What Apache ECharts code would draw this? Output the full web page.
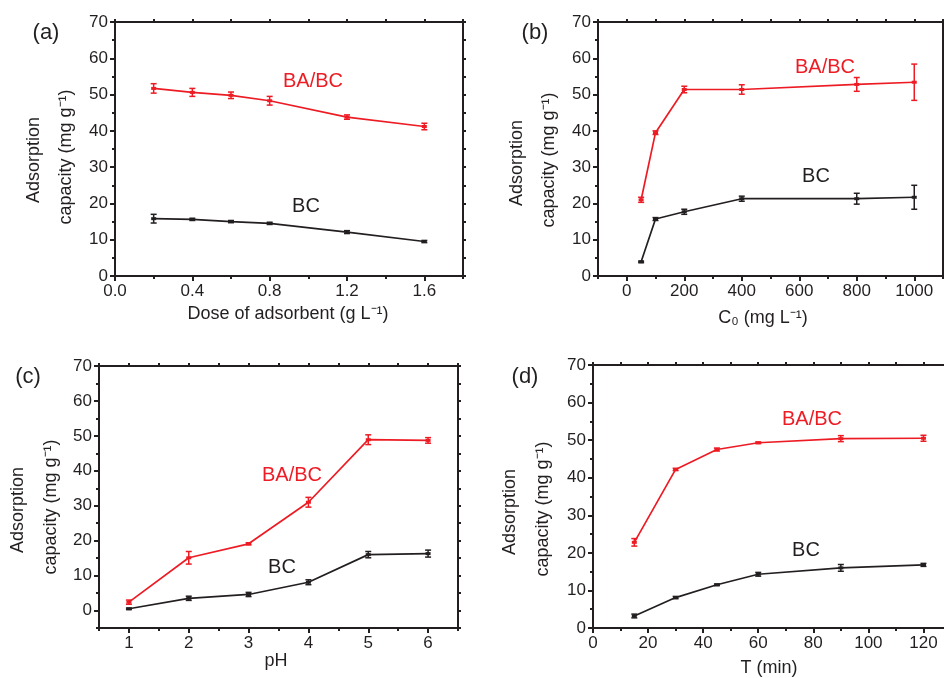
<!DOCTYPE html>
<html><head><meta charset="utf-8">
<script src="https://cdn.jsdelivr.net/npm/echarts@6/dist/echarts.min.js"></script>
<style>html,body{margin:0;padding:0;background:#fff}#c{width:944px;height:678px}</style>
</head><body><div id="c"></div><script>
// ---------- data ----------
// (a) dose of adsorbent
const xA = [0.2, 0.4, 0.6, 0.8, 1.2, 1.6];
const baA = [51.7, 50.6, 49.8, 48.3, 43.8, 41.2];
const baAErr = [1.3, 1.1, 0.9, 1.2, 0.6, 0.9];
const bcA = [15.8, 15.6, 15.0, 14.5, 12.1, 9.5];
const bcAErr = [1.2, 0.3, 0.3, 0.3, 0.4, 0.3];
// (b) initial concentration
const xB = [50, 100, 200, 400, 800, 1000];
const baB = [21.0, 39.5, 51.4, 51.4, 52.8, 53.4];
const baBErr = [0.7, 0.5, 0.9, 1.3, 1.9, 5.0];
const bcB = [3.9, 15.7, 17.7, 21.3, 21.3, 21.7];
const bcBErr = [0.2, 0.4, 0.7, 0.7, 1.5, 3.3];
// (c) pH
const xC = [1, 2, 3, 4, 5, 6];
const baC = [2.4, 15.1, 19.1, 31.0, 48.9, 48.7];
const baCErr = [0.6, 1.8, 0.3, 1.4, 1.4, 0.8];
const bcC = [0.5, 3.5, 4.6, 8.1, 16.0, 16.3];
const bcCErr = [0.2, 0.6, 0.6, 0.7, 0.9, 1.0];
// (d) time
const xD = [15, 30, 45, 60, 90, 120];
const baD = [22.8, 42.2, 47.5, 49.3, 50.4, 50.5];
const baDErr = [1.0, 0.3, 0.4, 0.2, 0.8, 0.8];
const bcD = [3.2, 8.1, 11.5, 14.3, 16.0, 16.8];
const bcDErr = [0.5, 0.3, 0.2, 0.5, 0.9, 0.4];

// tick values
const yMajor = [0, 10, 20, 30, 40, 50, 60, 70];
const yMinor = [5, 15, 25, 35, 45, 55, 65];
const yMinorC = [-5, 5, 15, 25, 35, 45, 55, 65];
const xMajorA = [0, 0.4, 0.8, 1.2, 1.6];
const xMinorA = [0.2, 0.6, 1.0, 1.4, 1.8];
const xMajorB = [0, 200, 400, 600, 800, 1000];
const xMinorB = [-100, 100, 300, 500, 700, 900, 1100];
const xMajorC = [1, 2, 3, 4, 5, 6];
const xMinorC = [0.5, 1.5, 2.5, 3.5, 4.5, 5.5, 6.5];
const xMajorD = [0, 20, 40, 60, 80, 100, 120];
const xMinorD = [10, 30, 50, 70, 90, 110, 130];

const seriesNames = ['BA/BC', 'BC'];
const panelLetters = ['(a)', '(b)', '(c)', '(d)'];
const xTitles = ['Dose of adsorbent (g L⁻¹)', 'C₀ (mg L⁻¹)', 'pH', 'T (min)'];
const yTitle1 = 'Adsorption';
const yTitle2 = 'capacity (mg g⁻¹)';

// ---------- styling / layout ----------
const FONT = "'Liberation Sans', Arial, sans-serif";
const INK = '#231f20', RED = '#ed1c24';

const panels = [
  { grid: {left: 115, top: 22, width: 348, height: 254}, xMin: 0, xMax: 1.8, xMajor: xMajorA, xMinor: xMinorA,
    xFmt: v => Number(v).toFixed(1), yMin: 0, yMax: 70, yMinor: yMinor,
    x: xA, ba: baA, baErr: baAErr, bc: bcA, bcErr: bcAErr,
    letter: [46, 33], baLbl: [313, 81], bcLbl: [306, 206], xT: [288, 314], yT1: [34, 160], yT2: [66, 157] },
  { grid: {left: 598, top: 22, width: 345, height: 254}, xMin: -100, xMax: 1100, xMajor: xMajorB, xMinor: xMinorB,
    xFmt: v => String(v), yMin: 0, yMax: 70, yMinor: yMinor,
    x: xB, ba: baB, baErr: baBErr, bc: bcB, bcErr: bcBErr,
    letter: [535, 33], baLbl: [825, 67], bcLbl: [816, 176], xT: [763, 318], yT1: [517, 163], yT2: [549, 160] },
  { grid: {left: 99, top: 366, width: 359, height: 262}, xMin: 0.5, xMax: 6.5, xMajor: xMajorC, xMinor: xMinorC,
    xFmt: v => String(v), yMin: -5, yMax: 70, yMinor: yMinorC,
    x: xC, ba: baC, baErr: baCErr, bc: bcC, bcErr: bcCErr,
    letter: [28, 377], baLbl: [292, 475], bcLbl: [282, 567], xT: [276, 661], yT1: [18, 510], yT2: [51, 507] },
  { grid: {left: 593, top: 365, width: 358, height: 263}, xMin: 0, xMax: 130, xMajor: xMajorD, xMinor: xMinorD,
    xFmt: v => String(v), yMin: 0, yMax: 70, yMinor: yMinor,
    x: xD, ba: baD, baErr: baDErr, bc: bcD, bcErr: bcDErr,
    letter: [525, 377], baLbl: [812, 419], bcLbl: [806, 550], xT: [769, 668], yT1: [510, 512], yT2: [543, 509] }
];

const grids = [], xAxes = [], yAxes = [], series = [], graphics = [];
const lineStyleAxis = {color: INK, width: 2};

function errBar(color, gi) {
  return function (params, api) {
    const x = api.value(0), y = api.value(1), e = api.value(2);
    const t = api.coord([x, y + e]), b = api.coord([x, y - e]);
    const w = 3;
    const st = {stroke: color, lineWidth: 1.5};
    return {type: 'group', children: [
      {type: 'line', shape: {x1: t[0], y1: t[1], x2: b[0], y2: b[1]}, style: st},
      {type: 'line', shape: {x1: t[0] - w, y1: t[1], x2: t[0] + w, y2: t[1]}, style: st},
      {type: 'line', shape: {x1: b[0] - w, y1: b[1], x2: b[0] + w, y2: b[1]}, style: st}
    ]};
  };
}

panels.forEach((p, i) => {
  grids.push(Object.assign({outerBoundsMode: 'none', containLabel: false}, p.grid));
  const xb = {gridIndex: i, type: 'value', min: p.xMin, max: p.xMax, splitLine: {show: false}};
  const yb = {gridIndex: i, type: 'value', min: p.yMin, max: p.yMax, splitLine: {show: false}};
  // main bottom
  xAxes.push(Object.assign({}, xb, {position: 'bottom',
    axisLine: {show: true, onZero: false, lineStyle: lineStyleAxis},
    axisTick: {show: true, customValues: p.xMajor, length: 5, lineStyle: {color: INK, width: 2}},
    axisLabel: {show: true, customValues: p.xMajor, formatter: p.xFmt, color: INK, fontSize: 17, fontFamily: FONT, margin: 7}}));
  // minor bottom
  xAxes.push(Object.assign({}, xb, {position: 'bottom',
    axisLine: {show: false, onZero: false},
    axisTick: {show: true, customValues: p.xMinor, length: 3, lineStyle: {color: INK, width: 2}},
    axisLabel: {show: false}}));
  // top mirror
  xAxes.push(Object.assign({}, xb, {position: 'top',
    axisLine: {show: true, onZero: false, lineStyle: lineStyleAxis},
    axisTick: {show: true, customValues: p.xMajor.concat(p.xMinor), length: 3, lineStyle: {color: INK, width: 2}},
    axisLabel: {show: false}}));
  // main left
  yAxes.push(Object.assign({}, yb, {position: 'left',
    axisLine: {show: true, onZero: false, lineStyle: lineStyleAxis},
    axisTick: {show: true, customValues: yMajor, length: 5, lineStyle: {color: INK, width: 2}},
    axisLabel: {show: true, customValues: yMajor, color: INK, fontSize: 17, fontFamily: FONT, margin: 7}}));
  yAxes.push(Object.assign({}, yb, {position: 'left',
    axisLine: {show: false, onZero: false},
    axisTick: {show: true, customValues: p.yMinor, length: 3, lineStyle: {color: INK, width: 2}},
    axisLabel: {show: false}}));
  yAxes.push(Object.assign({}, yb, {position: 'right',
    axisLine: {show: true, onZero: false, lineStyle: lineStyleAxis},
    axisTick: {show: true, customValues: yMajor.concat(p.yMinor), length: 3, lineStyle: {color: INK, width: 2}},
    axisLabel: {show: false}}));

  const xi = 3 * i, yi = 3 * i;
  [[p.ba, p.baErr, RED, seriesNames[0]], [p.bc, p.bcErr, INK, seriesNames[1]]].forEach(([vals, errs, col, nm]) => {
    series.push({type: 'line', name: nm, xAxisIndex: xi, yAxisIndex: yi,
      data: p.x.map((v, k) => [v, vals[k]]),
      symbol: 'rect', symbolSize: [5, 3], itemStyle: {color: col},
      lineStyle: {color: col, width: 1.7}, animation: false, z: 3});
    series.push({type: 'custom', name: nm + ' err', xAxisIndex: xi, yAxisIndex: yi,
      data: p.x.map((v, k) => [v, vals[k], errs[k]]),
      encode: {x: 0, y: 1}, renderItem: errBar(col), animation: false, z: 4});
  });

  const txt = (pos, s, size, color, rot) => graphics.push({type: 'text', x: pos[0], y: pos[1], rotation: rot || 0,
    style: {text: s, fill: color, font: size + 'px ' + FONT, textAlign: 'center', textVerticalAlign: 'middle'}});
  txt(p.letter, panelLetters[i], 22, INK);
  txt(p.baLbl, seriesNames[0], 20, RED);
  txt(p.bcLbl, seriesNames[1], 20, INK);
  txt(p.xT, xTitles[i], 18, INK);
  txt(p.yT1, yTitle1, 18, INK, Math.PI / 2);
  txt(p.yT2, yTitle2, 18, INK, Math.PI / 2);
});

const chart = echarts.init(document.getElementById('c'), null, {renderer: 'canvas'});
chart.setOption({
  backgroundColor: '#fff', animation: false,
  grid: grids, xAxis: xAxes, yAxis: yAxes, series: series, graphic: graphics
});
</script></body></html>
